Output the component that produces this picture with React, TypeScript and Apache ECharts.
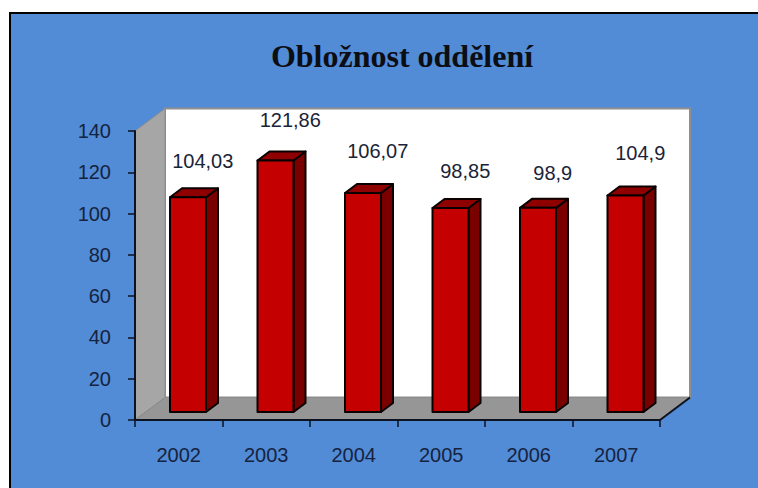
import React, { useEffect, useRef } from "react";
import * as echarts from "echarts";

const categories = ["2002", "2003", "2004", "2005", "2006", "2007"];
const occupancy = [104.03, 121.86, 106.07, 98.85, 98.9, 104.9];
const valueLabels = ["104,03", "121,86", "106,07", "98,85", "98,9", "104,9"];
const labelRise = [44, 48, 50, 45, 43, 50];
const title = "Obložnost oddělení";

const BLUE = "#528bd6";
const INK = "#15233f";
const WALL_DX = 30;
const WALL_DY = 22.5;
const BAR_W = 36;
const BAR_LEFT = -8.75;
const BAR_LIFT = 8;
const BAR_DX = 12;
const BAR_DY = 9;

export default function App() {
  const ref = useRef<HTMLDivElement>(null);
  useEffect(() => {
    const chart = echarts.init(ref.current!, null, { renderer: "svg" });
    chart.setOption({
      animation: false,
      backgroundColor: "transparent",
      title: {
        text: title,
        left: 397,
        top: 35,
        textAlign: "center",
        textStyle: { fontFamily: "Liberation Serif", fontWeight: "bold", fontSize: 32, color: "#0d0d14" },
      },
      grid: { left: 135, top: 131, width: 525, height: 289, containLabel: false },
      xAxis: {
        type: "category",
        data: categories,
        z: 6,
        axisLine: { lineStyle: { color: "#0c1220", width: 2 } },
        axisTick: { show: true, length: 7, alignWithLabel: false, lineStyle: { color: "#0c1220", width: 1.5 } },
        axisLabel: { margin: 25, fontFamily: "Liberation Sans", fontSize: 20, color: INK },
        splitLine: { show: false },
      },
      yAxis: {
        type: "value",
        min: 0,
        max: 140,
        interval: 20,
        z: 6,
        axisLine: { show: true, lineStyle: { color: "#0c1220", width: 2 } },
        axisTick: { show: true, length: 7, lineStyle: { color: "#0c1220", width: 1.5 } },
        axisLabel: { margin: 24, fontFamily: "Liberation Sans", fontSize: 20, color: INK },
        splitLine: { show: false },
      },
      series: [
        {
          type: "custom",
          z: 1,
          silent: true,
          coordinateSystem: "cartesian2d",
          data: [[0, 0]],
          renderItem: (params: any) => {
            const { x, y, width: w, height: h } = params.coordSys;
            const b = y + h;
            const r = x + w;
            return {
              type: "group",
              children: [
                {
                  type: "rect",
                  shape: { x: x + WALL_DX, y: y - WALL_DY, width: w, height: h },
                  style: { fill: "#ffffff", stroke: "#8f8f8f", lineWidth: 2 },
                },
                {
                  type: "polygon",
                  shape: { points: [[x, b], [x, y], [x + WALL_DX, y - WALL_DY], [x + WALL_DX, b - WALL_DY]] },
                  style: { fill: "#a6a6a6", stroke: "#8c8c8c", lineWidth: 1 },
                },
                {
                  type: "polygon",
                  shape: { points: [[x, b], [r, b], [r + WALL_DX, b - WALL_DY], [x + WALL_DX, b - WALL_DY]] },
                  style: { fill: "#969696", stroke: "#8c8c8c", lineWidth: 1 },
                },
                {
                  type: "line",
                  shape: { x1: r, y1: b, x2: r + WALL_DX, y2: b - WALL_DY },
                  style: { stroke: "#0c1220", lineWidth: 2 },
                },
              ],
            };
          },
        },
        {
          type: "custom",
          z: 3,
          coordinateSystem: "cartesian2d",
          encode: { x: 0, y: 1 },
          data: occupancy.map((v, i) => [i, v]),
          renderItem: (params: any, api: any) => {
            const i = api.value(0);
            const top = api.coord([i, api.value(1)]);
            const base = api.coord([i, 0]);
            const x0 = top[0] + BAR_LEFT;
            const x1 = x0 + BAR_W;
            const yT = top[1] - BAR_LIFT;
            const yB = base[1] - BAR_LIFT;
            const edge = { stroke: "#0a0000", lineWidth: 2, lineJoin: "round" };
            return {
              type: "group",
              children: [
                {
                  type: "polygon",
                  shape: { points: [[x1, yT], [x1 + BAR_DX, yT - BAR_DY], [x1 + BAR_DX, yB - BAR_DY], [x1, yB]] },
                  style: { fill: "#7a0000", ...edge },
                },
                {
                  type: "polygon",
                  shape: { points: [[x0, yT], [x0 + BAR_DX, yT - BAR_DY], [x1 + BAR_DX, yT - BAR_DY], [x1, yT]] },
                  style: { fill: "#8f0000", ...edge },
                },
                {
                  type: "rect",
                  shape: { x: x0, y: yT, width: BAR_W, height: yB - yT },
                  style: { fill: "#c40000", ...edge },
                },
                {
                  type: "text",
                  style: {
                    text: valueLabels[i],
                    x: top[0] + 24,
                    y: top[1] - labelRise[i],
                    align: "center",
                    verticalAlign: "middle",
                    fontFamily: "Liberation Sans",
                    fontSize: 20,
                    fill: "#1a2438",
                  },
                },
              ],
            };
          },
        },
      ],
    });
    return () => chart.dispose();
  }, []);

  return (
    <div style={{ position: "fixed", left: 0, top: 0, width: 758, height: 488, background: "#fff", overflow: "hidden" }}>
      <div
        style={{
          position: "absolute",
          left: 9,
          top: 12,
          right: 0,
          bottom: 0,
          background: BLUE,
          borderTop: "2px solid #000",
          borderLeft: "2px solid #000",
        }}
      />
      <div ref={ref} style={{ position: "absolute", left: 0, top: 0, width: 758, height: 488 }} />
    </div>
  );
}
